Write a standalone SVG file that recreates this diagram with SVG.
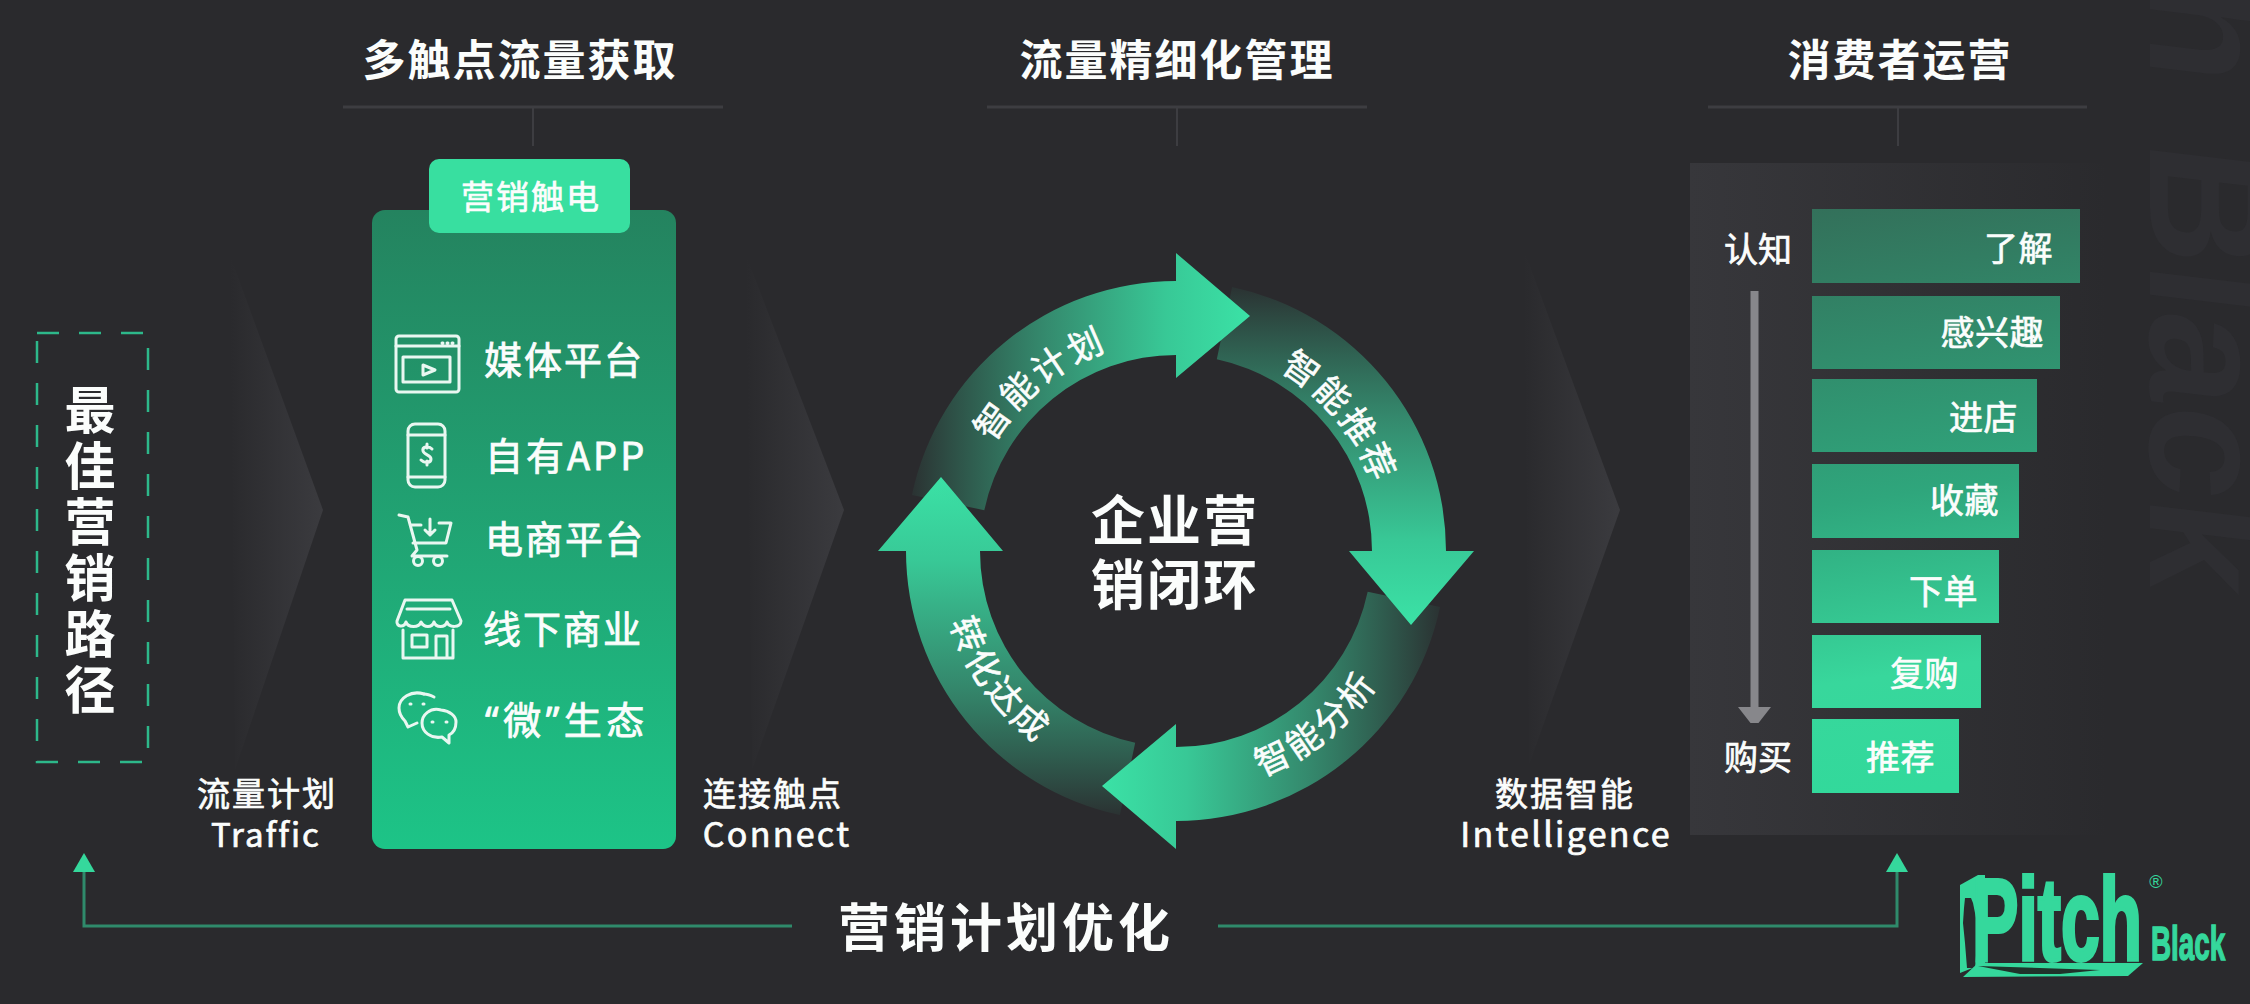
<svg xmlns="http://www.w3.org/2000/svg" xmlns:xlink="http://www.w3.org/1999/xlink" width="2250" height="1004" viewBox="0 0 2250 1004">
<style>
text{font-family:"Noto Sans CJK SC","Noto Sans",sans-serif;fill:#fbfdfc}
.b{font-weight:700}
.m{text-anchor:middle}
.med{stroke:#fbfdfc;stroke-width:.7px}
.title{font-size:43px;font-weight:700;letter-spacing:2px;text-anchor:middle}
.rule{stroke:#3d3d41;fill:none}
.lab{font-size:33px;letter-spacing:2px;text-anchor:middle;stroke:#fbfdfc;stroke-width:.7px}
.en{font-size:34px;letter-spacing:2.3px}
.item{font-size:38px;letter-spacing:2px;stroke:#fbfdfc;stroke-width:.8px}
.bar{font-size:34px;text-anchor:end;letter-spacing:.5px;stroke:#fbfdfc;stroke-width:.7px}
.ring{font-size:35px;letter-spacing:3px;text-anchor:middle;stroke:#fbfdfc;stroke-width:.6px}
.ic{fill:none;stroke:#e9f7f1;stroke-width:3;stroke-linecap:round;stroke-linejoin:round}
.logo{font-family:"Liberation Sans",Arial,sans-serif;font-weight:700;fill:#35d89c;stroke:#35d89c}
.fb{stroke:#2f8a6b;stroke-width:3;fill:none}
</style>
<defs>
<linearGradient id="chev" x1="0" y1="0" x2="1" y2="0"><stop offset="0" stop-color="#3b3b3f" stop-opacity="0"/><stop offset="1" stop-color="#3b3b3f"/></linearGradient>
<linearGradient id="panel" x1="0" y1="0" x2="0" y2="1"><stop offset="0" stop-color="#24835f"/><stop offset="1" stop-color="#1dc487"/></linearGradient>
<linearGradient id="box" x1="0" y1="0" x2="1" y2="0"><stop offset="0" stop-color="#37373b"/><stop offset="1" stop-color="#2a2a2d"/></linearGradient>
<linearGradient id="bars" gradientUnits="userSpaceOnUse" x1="1812" y1="209" x2="1900" y2="793"><stop offset="0" stop-color="#33705a"/><stop offset=".5" stop-color="#2fa67c"/><stop offset=".8" stop-color="#38d79c"/><stop offset="1" stop-color="#32d99b"/></linearGradient>
<linearGradient id="arrowFill" gradientUnits="userSpaceOnUse" x1="-265" y1="0" x2="74" y2="0"><stop offset="0" stop-color="#3be0a5" stop-opacity=".04"/><stop offset=".4" stop-color="#3bc696" stop-opacity=".62"/><stop offset=".75" stop-color="#38c896" stop-opacity="1"/><stop offset="1" stop-color="#3be2a6"/></linearGradient>
<path id="ringArrow" fill="url(#arrowFill)" d="M-264.1,-56.1 A270,270 0 0 1 0,-270 L0,-298 L74,-235 L0,-173 L0,-196 A196,196 0 0 0 -191.7,-40.8 Z"/>
<path id="tp1" d="M964,547.3 A212,212 0 0 1 1216.5,342.9"/>
<path id="tp2" d="M1178.5,343 A208,208 0 0 1 1380.4,589.6"/>
<path id="tp3" d="M1129.6,787.5 A241,241 0 0 0 1417,555.6"/>
<path id="tp4" d="M946,493.7 A237,237 0 0 0 1159.5,787.4"/>
</defs>
<rect width="2250" height="1004" fill="#2a2a2d"/>
<text id="watermark" transform="matrix(0,1,-1,-0.12,2150,587)" style="font-family:'Liberation Sans',sans-serif;font-weight:700;font-size:168px;fill:#2e2e32;text-anchor:end;word-spacing:15px">Pitch Black</text>

<g id="chevrons">
<polygon points="230,255 323,510 235,770" fill="url(#chev)"/>
<polygon points="746,255 844,510 752,770" fill="url(#chev)"/>
<polygon points="1524,250 1620,510 1529,765" fill="url(#chev)"/>
</g>

<g id="path-label">
<path d="M37,333H148V762H37Z" fill="none" stroke="#2db88a" stroke-width="2.5" stroke-dasharray="22 20"/>
<text class="b" font-size="51" x="90" y="384" letter-spacing="5" style="writing-mode:vertical-rl;text-orientation:upright">最佳营销路径</text>
</g>

<g id="head-acquire">
<text class="title" x="520" y="76">多触点流量获取</text>
<path class="rule" stroke-width="3" d="M343,107H723"/><path class="rule" stroke-width="2" d="M533,107V146"/>
</g>
<g id="head-manage">
<text class="title" x="1177" y="76">流量精细化管理</text>
<path class="rule" stroke-width="3" d="M987,107H1367"/><path class="rule" stroke-width="2" d="M1177,107V146"/>
</g>
<g id="head-ops">
<text class="title" x="1900" y="76">消费者运营</text>
<path class="rule" stroke-width="3" d="M1708,107H2087"/><path class="rule" stroke-width="2" d="M1898,107V146"/>
</g>

<g id="traffic"><text class="lab"><tspan x="267" y="806">流量计划</tspan><tspan x="266" y="847" style="letter-spacing:2px">Traffic</tspan></text></g>
<g id="connect"><text class="lab"><tspan x="773" y="806">连接触点</tspan><tspan class="en" x="777" y="847">Connect</tspan></text></g>
<g id="intelligence"><text class="lab"><tspan x="1565" y="806">数据智能</tspan><tspan class="en" x="1566" y="847">Intelligence</tspan></text></g>

<g id="touchpoints">
<rect x="372" y="210" width="304" height="639" rx="13" fill="url(#panel)"/>
<rect x="429" y="159" width="201" height="74" rx="10" fill="#38dfa0"/>
<text x="531" y="209" class="m med" font-size="33" letter-spacing="2">营销触电</text>
</g>
<g id="item-media">
<rect class="ic" x="396" y="336" width="63" height="56" rx="3"/><path class="ic" d="M396,346H459M442,343h1M447,343h1M452,343h1"/><rect class="ic" x="403" y="357" width="47" height="25"/><path class="ic" stroke-width="2.5" d="M423,365L435,370L423,375Z"/>
<text class="item" x="484" y="374">媒体平台</text>
</g>
<g id="item-app">
<rect class="ic" x="408" y="424" width="37" height="63" rx="7"/><path class="ic" d="M408,435H445M408,477H445"/><path class="ic" d="M432,449C428,445 422,447 423,451C424,455 431,455 431,459C431,463 425,464 421,460M427,444V448M427,461V465"/>
<text class="item" x="485" y="470" style="letter-spacing:3px">自有APP</text>
</g>
<g id="item-ecom">
<path class="ic" d="M399,515L408,517L417,550L412,556H447M411,525H421M439,523H451L446,543H413M430,519V535M425,530L430,535L435,530"/><circle class="ic" cx="418" cy="561" r="4.5"/><circle class="ic" cx="438" cy="561" r="4.5"/>
<text class="item" x="485" y="553">电商平台</text>
</g>
<g id="item-store">
<path class="ic" d="M405,600H452L461,621C461,628 449,628 447,622C445,628 436,628 434,622C432,628 424,628 421,622C419,628 408,628 406,622C404,628 396,627 397,621ZM407,609H450M403,630V658H453V630M412,635H427V647H412ZM436,658V636H447V658"/>
<text class="item" x="483" y="643">线下商业</text>
</g>
<g id="item-wechat">
<path class="ic" d="M424,694C411,690 399,698 399,708C399,714 402,718 405,721L408,727L417,723"/><path class="ic" d="M434,697C430,695 427,694 424,694"/><path class="ic" d="M441,710C430,707 422,715 422,723C422,732 431,739 442,737L449,743L449,735C455,732 456,726 456,722C456,716 450,711 441,710Z"/><path class="ic" d="M410,704h1M423,704h1M432,722h1M446,722h1"/>
<text class="item" x="485" y="734" style="font-family:'Noto Sans','Noto Sans CJK SC',sans-serif;letter-spacing:4.5px">“微”生态</text>
</g>

<g id="loop">
<use xlink:href="#ringArrow" href="#ringArrow" transform="translate(1176,551) rotate(-90)"/>
<use xlink:href="#ringArrow" href="#ringArrow" transform="translate(1176,551) rotate(180)"/>
<use xlink:href="#ringArrow" href="#ringArrow" transform="translate(1176,551) rotate(90)"/>
<use xlink:href="#ringArrow" href="#ringArrow" transform="translate(1176,551)"/>
<text class="ring"><textPath href="#tp1" xlink:href="#tp1" startOffset="50%">智能计划</textPath></text>
<text class="ring"><textPath href="#tp2" xlink:href="#tp2" startOffset="50%">智能推荐</textPath></text>
<text class="ring"><textPath href="#tp3" xlink:href="#tp3" startOffset="50%">智能分析</textPath></text>
<text class="ring"><textPath href="#tp4" xlink:href="#tp4" startOffset="50%">转化达成</textPath></text>
<text class="b m" font-size="54" letter-spacing="2"><tspan x="1175" y="541">企业营</tspan><tspan x="1175" y="605">销闭环</tspan></text>
</g>

<g id="consumer">
<rect x="1690" y="163" width="418" height="672" fill="url(#box)"/>
<text x="1758" y="262" class="m med" font-size="34">认知</text>
<text x="1758" y="770" class="m med" font-size="34">购买</text>
<path d="M1750.5,291h8V707h12.5l-12.5,16h-8l-12.5,-16h12.5Z" fill="#87878b"/>
<rect x="1812" y="209" width="268" height="74" fill="url(#bars)"/><text class="bar" x="2053" y="261">了解</text>
<rect x="1812" y="296" width="248" height="73" fill="url(#bars)"/><text class="bar" x="2044" y="345">感兴趣</text>
<rect x="1812" y="379" width="225" height="73" fill="url(#bars)"/><text class="bar" x="2018" y="430">进店</text>
<rect x="1812" y="464" width="207" height="74" fill="url(#bars)"/><text class="bar" x="1999" y="513">收藏</text>
<rect x="1812" y="550" width="187" height="73" fill="url(#bars)"/><text class="bar" x="1978" y="604">下单</text>
<rect x="1812" y="635" width="169" height="73" fill="url(#bars)"/><text class="bar" x="1959" y="686">复购</text>
<rect x="1812" y="719" width="147" height="74" fill="url(#bars)"/><text class="bar" x="1935" y="770">推荐</text>
</g>

<g id="connectors">
<path class="fb" d="M792,926H84V870"/><polygon points="84,853 95,872 73,872" fill="#35d89c"/>
<path class="fb" d="M1218,926H1897V870"/><polygon points="1897,853 1908,872 1886,872" fill="#35d89c"/>
</g>
<g id="feedback-label"><text class="b m" font-size="52" letter-spacing="4" x="1006" y="947">营销计划优化</text></g>

<g id="logo">
<polygon points="1960,885 1978,875 1985,875 1985,963 1960,973" fill="#35d89c"/>
<path d="M1965,898h6l2,5l2,10l2,10v20l-2,25h-8l-2,-25l-2,-20l1,-15Z" fill="#2a2a2d"/>
<polygon points="1963,977 1978,963 2143,963 2128,976" fill="#35d89c"/>
<path d="M1978,966L2100,970L2060,974H2020Z" fill="#20332b"/>
<text class="logo" stroke-width="4" transform="translate(1972,960) scale(.6,1)" font-size="116">Pitch</text>
<text class="logo" stroke-width="1.5" transform="translate(2151,960) scale(.58,1)" font-size="48">Black</text>
<text x="2156" y="888" class="m" font-size="18" style="font-family:'Liberation Sans',sans-serif;fill:#35d89c">®</text>
</g>
</svg>
